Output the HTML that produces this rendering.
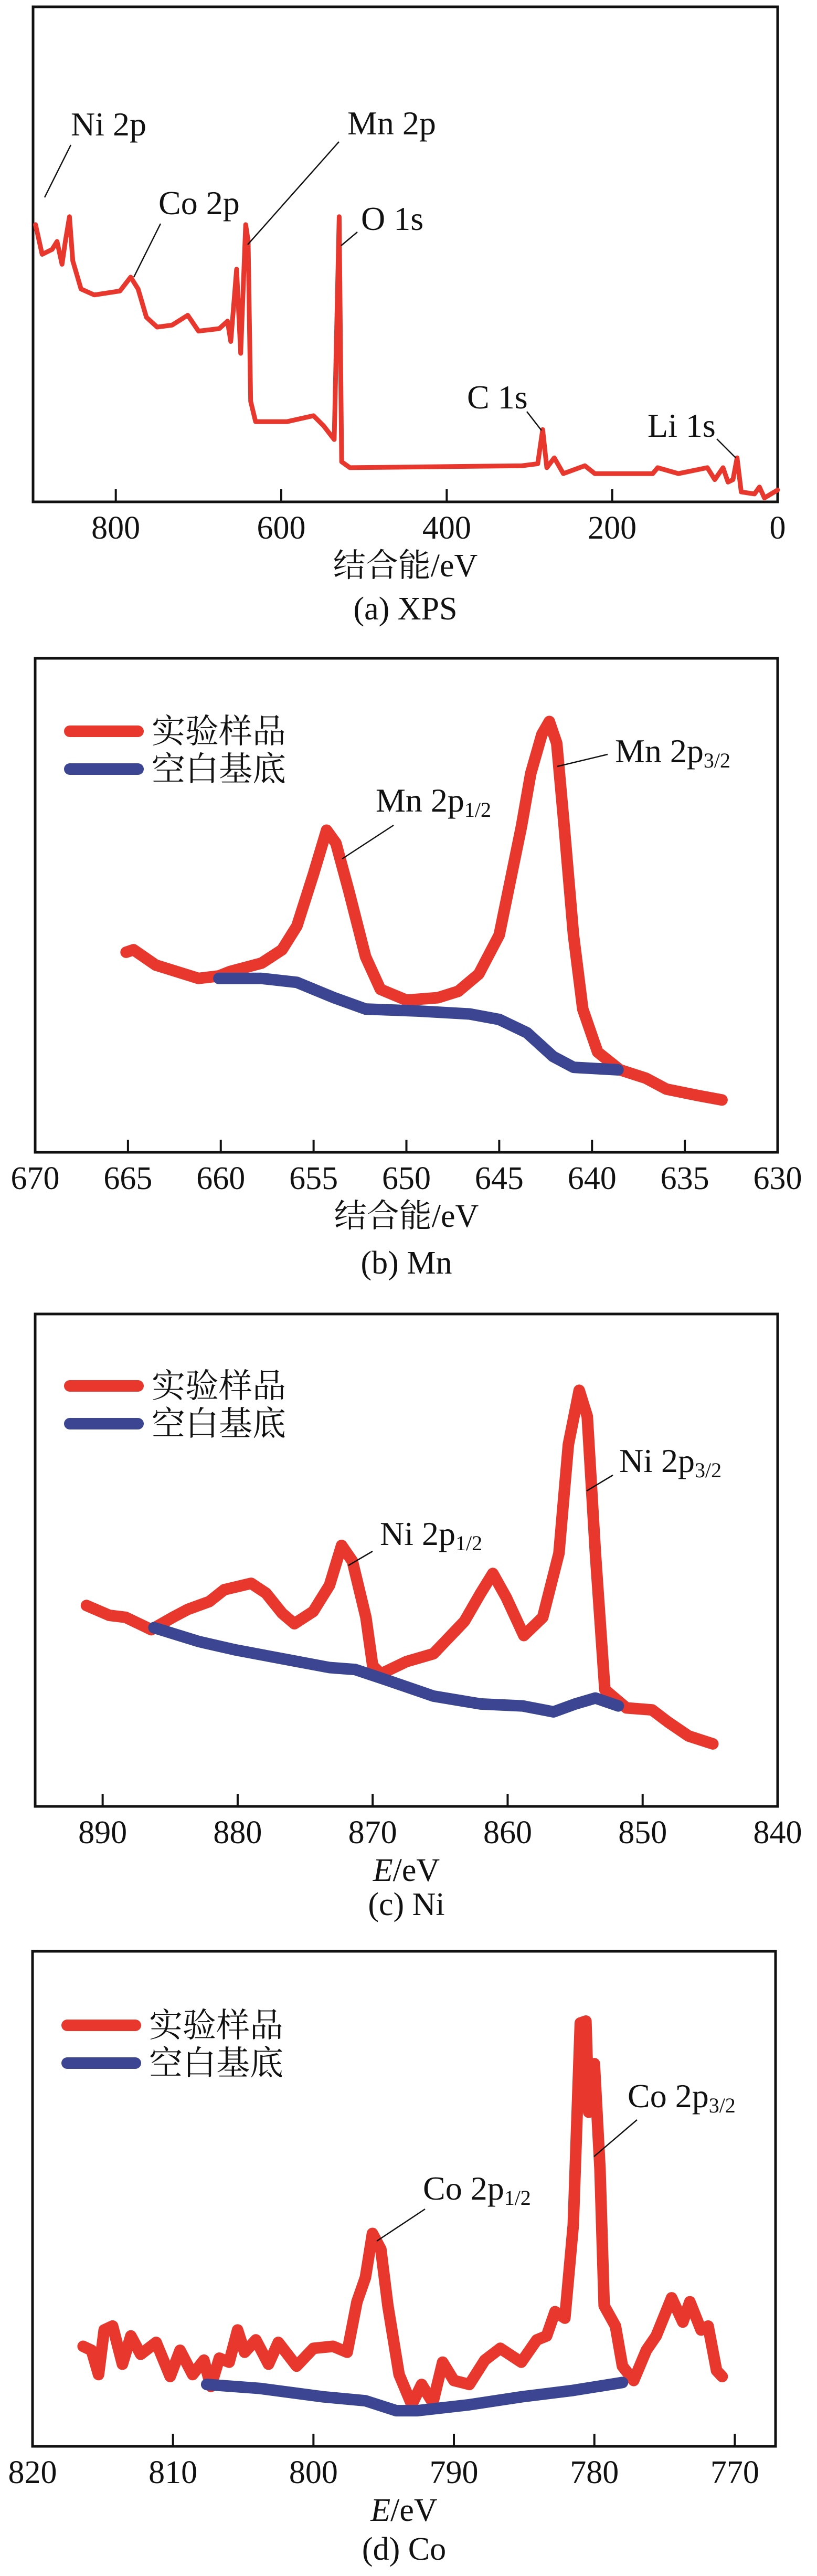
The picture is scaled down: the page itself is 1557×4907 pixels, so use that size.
<!DOCTYPE html>
<html><head><meta charset="utf-8">
<style>
html,body{margin:0;padding:0;background:#fff;}
svg{display:block;}
text{font-family:"Liberation Serif","Noto Serif CJK SC","Noto Sans CJK SC",serif;fill:#111;}
</style></head>
<body>
<svg id="fig" width="1557" height="4907" viewBox="0 0 1557 4907" xmlns="http://www.w3.org/2000/svg"></svg>
<script>
// ---- Panel (a) XPS survey data ----
const aEnergy = [897,889,877,871,865,861,856,852,842,826,795,782,773,763,750,732,713,700,675,665,661,654,649,643,640,637,631,593,561,549,536,530,527,517,309,290,284,279,270,259,233,221,151,145,120,85,76,66,60,54,49,44,28,22,16,0];
const aIntensity = [56,50,51,52.6,48,52.6,57.6,48.7,43,41.8,42.6,45.4,43,37.3,35.3,35.7,37.7,34.5,35,36.5,32.4,47,30,56,52.7,20.3,16.2,16.2,17.4,15.4,12.6,57.6,8.1,6.9,7.3,7.7,14.6,6.9,8.9,5.7,7.3,5.7,5.7,6.9,5.7,6.9,4.5,6.9,4,4.5,8.9,2,1.6,3,0.8,2.4];
const aTicks = [800,600,400,200,0];

// ---- Panel (b) Mn ----
const bEnergy = [665.1,664.7,663.5,661.2,660.1,659.5,657.8,656.7,655.9,655,654.3,653.8,653.1,652.2,651.4,650,648.3,647.2,646.1,645,643.8,643.3,642.7,642.3,641.9,641.5,641,640.5,639.7,638.5,637.1,636,634.3,633];
const bSample = [40.5,41,37.9,35.2,35.7,36.6,38.3,41,45.8,56.4,65.2,62.6,52.9,39.6,33,30.8,31.3,32.6,36.1,44,66,76.7,84.6,87.2,82.8,66,44,29,20.3,16.7,15,12.8,11.5,10.6];
const bBgEnergy = [660.1,657.8,655.9,653.9,652.2,649.4,646.6,645,643.5,642.1,641,638.6];
const bBlank = [35.2,35.2,34.4,31.3,29,28.6,28,26.9,24.2,19.4,17.2,16.7];
const bTicks = [670,665,660,655,650,645,640,635,630];

// ---- Panel (c) Ni ----
const cEnergy = [891.2,889.5,888.3,886.4,884.8,883.7,882.1,881,879,877.9,876.7,875.8,874.4,873.2,872.3,871.5,870.5,870,869.4,867.5,865.5,863.2,862,861.1,860.1,858.8,857.4,856.2,855.5,854.7,854.1,853.5,852.8,851.2,849.3,848.1,846.6,844.8];
const cSample = [40.8,38.8,38.4,35.9,38.4,40,41.6,44,45.3,43.3,39.2,37.1,39.6,44.9,53,49.8,38.4,28.6,26.9,29.4,31,37.6,43.3,47.3,42.4,34.7,38.4,51.4,73.5,84.5,79.2,51.4,23.7,20,19.6,17.1,14.3,12.7];
const cBgEnergy = [886.2,882.9,880.2,877.1,873.2,871.3,869,865.5,862,858.9,856.6,855,853.5,851.8];
const cBlank = [36.3,33.5,31.8,30.2,28.2,27.8,25.7,22.4,20.8,20.4,19.2,20.8,22,20.4];
const cTicks = [890,880,870,860,850,840];

// ---- Panel (d) Co ----
const dEnergy = [816.4,815.8,815.3,814.9,814.3,813.6,813,812.3,811.2,810.2,809.5,808.6,807.8,807.3,806.7,806,805.4,804.9,804.1,803.2,802.5,801.2,800,798.6,797.6,796.9,796.3,795.8,795.2,794.7,793.9,793,792.3,791.5,790.8,790,788.9,787.8,786.7,785.2,784.1,783.4,782.8,782.1,781.5,781,780.6,780.4,780,779.6,779.3,778.5,778,777.2,776.3,775.6,774.5,773.7,773.2,772.4,771.9,771.3,770.9];
const dSample = [20.2,19.4,14.5,23.5,24.3,16.6,22.3,18.6,21,14.1,19.4,14.5,17.4,12.1,17.8,17,23.5,19,21.5,16.6,21,16.2,19.8,20.2,19,29.2,34.1,43,39.8,28.4,14.5,8.4,12.5,8.8,17,13.3,12.5,17.4,19.8,17,21.5,22.3,27.2,25.9,44.7,85.5,85.9,67.5,77.3,56.1,28.4,24.3,16.2,13.3,19.4,22.3,30,25.1,29.2,23.5,24.3,15.3,14.1];
const dBgEnergy = [807.6,803.8,799.3,796.3,794.1,792.6,788.9,785.2,781.5,778];
const dBlank = [12.5,11.7,10,9.2,7.2,7.2,8.4,10,11.3,12.9];
const dTicks = [820,810,800,790,780,770];

const RED = "#e8382e", BLUE = "#3b4592";
const NS = "http://www.w3.org/2000/svg";
const svg = document.getElementById("fig");
function mk(tag, attrs, parent){
  const e = document.createElementNS(NS, tag);
  for (const k in attrs) e.setAttribute(k, attrs[k]);
  (parent||svg).appendChild(e);
  return e;
}
function panel(p){
  const g = mk("g", {});
  
  
  const xs = v => p.x0 + (p.xmax - v) / (p.xmax - p.xmin) * (p.x1 - p.x0);
  const ys = v => p.y1 - v / 100 * (p.y1 - p.y0);
  // frame
  const fr = mk("rect", {x:p.x0, y:p.y0, width:p.x1-p.x0, height:p.y1-p.y0, fill:"none", stroke:"#111", "stroke-width":5}, g);
  
  
  // ticks
  p.ticks.forEach(t => {
    const x = xs(t);
    const tk = mk("line", {x1:x, x2:x, y1:p.y1, y2:p.y1-24, stroke:"#111", "stroke-width":4}, g);
    
    
    const tl = mk("text", {x:x, y:p.y1+70, "text-anchor":"middle", "font-size":62}, g);
    tl.textContent = t;
    
    
  });
  // axis title
  const at = mk("text", {x:(p.x0+p.x1)/2, y:p.y1+142, "text-anchor":"middle", "font-size":62}, g);
  if (p.italicE){
    const e1 = mk("tspan", {"font-style":"italic"}, at); e1.textContent = "E";
    const e2 = mk("tspan", {}, at); e2.textContent = "/eV";
  } else at.textContent = "结合能/eV";
  
  
  const cap = mk("text", {x:(p.x0+p.x1)/2, y:p.capY, "text-anchor":"middle", "font-size":62}, g);
  cap.textContent = p.caption;
  
  
  // series
  function line(ex, iy, color, w, nm){
    const d = ex.map((v,i)=> (i?"L":"M") + xs(v).toFixed(1) + "," + ys(iy[i]).toFixed(1)).join(" ");
    const pl = mk("path", {d:d, fill:"none", stroke:color, "stroke-width":w, "stroke-linejoin":"round", "stroke-linecap":"round"}, g);
    
    
  }
  line(p.ex, p.sample, RED, p.sw, p.name + '-sample-line');
  if (p.bx) line(p.bx, p.blank, BLUE, p.sw, p.name + '-blank-line');
  // legend
  if (p.legY){
    [[RED,"实验样品",0,'legend-entry-sample'],[BLUE,"空白基底",72,'legend-entry-blank']].forEach(L=>{
      const lg = mk("g", {}, g);
      
      
      mk("line", {x1:p.x0+66, x2:p.x0+196, y1:p.legY+L[2], y2:p.legY+L[2], stroke:L[0], "stroke-width":22, "stroke-linecap":"round"}, lg);
      const t = mk("text", {x:p.x0+222, y:p.legY+L[2]+22, "font-size":64}, lg);
      t.textContent = L[1];
    });
  }
  // annotations
  p.ann.forEach(a=>{
    const ag = mk("g", {}, g);
    
    
    mk("line", {x1:a.l[0], y1:a.l[1], x2:a.l[2], y2:a.l[3], stroke:"#111", "stroke-width":2.5}, ag);
    const t = mk("text", {x:a.x, y:a.y, "font-size":64}, ag);
    const s1 = mk("tspan", {}, t); s1.textContent = a.t;
    if (a.sub){ const s2 = mk("tspan", {"font-size":40, dy:10}, t); s2.textContent = a.sub; }
  });
}

panel({name:"xps-survey", x0:63, x1:1482, y0:13, y1:956, xmin:0, xmax:900, ticks:aTicks,
  ex:aEnergy, sample:aIntensity, sw:9, capY:1180, caption:"(a) XPS",
  ann:[
    {t:"Ni 2p", x:135, y:258, l:[135,276,85,376]},
    {t:"Co 2p", x:302, y:408, l:[306,426,255,528]},
    {t:"Mn 2p", x:662, y:256, l:[646,270,472,466]},
    {t:"O 1s", x:688, y:438, l:[681,442,650,468]},
    {t:"C 1s", x:890, y:778, l:[1004,784,1032,820]},
    {t:"Li 1s", x:1234, y:832, l:[1366,836,1402,872]}
  ]});

panel({name:"mn", x0:67, x1:1482, y0:1254, y1:2195, xmin:630, xmax:670, ticks:bTicks,
  ex:bEnergy, sample:bSample, bx:bBgEnergy, blank:bBlank, sw:22, capY:2426, caption:"(b) Mn", legY:1393,
  ann:[
    {t:"Mn 2p", sub:"3/2", x:1172, y:1452, l:[1158,1437,1062,1460]},
    {t:"Mn 2p", sub:"1/2", x:716, y:1546, l:[750,1572,652,1636]}
  ]});

panel({name:"ni", x0:67, x1:1482, y0:2503, y1:3441, xmin:840, xmax:895, ticks:cTicks, italicE:true,
  ex:cEnergy, sample:cSample, bx:cBgEnergy, blank:cBlank, sw:22, capY:3648, caption:"(c) Ni", legY:2640,
  ann:[
    {t:"Ni 2p", sub:"3/2", x:1180, y:2804, l:[1168,2810,1118,2840]},
    {t:"Ni 2p", sub:"1/2", x:724, y:2943, l:[710,2955,664,2982]}
  ]});

panel({name:"co", x0:62, x1:1478, y0:3717, y1:4660, xmin:767.1, xmax:820, ticks:dTicks, italicE:true,
  ex:dEnergy, sample:dSample, bx:dBgEnergy, blank:dBlank, sw:22, capY:4876, caption:"(d) Co", legY:3858,
  ann:[
    {t:"Co 2p", sub:"3/2", x:1196, y:4014, l:[1214,4038,1132,4108]},
    {t:"Co 2p", sub:"1/2", x:806, y:4190, l:[810,4208,718,4269]}
  ]});
</script>
</body></html>
